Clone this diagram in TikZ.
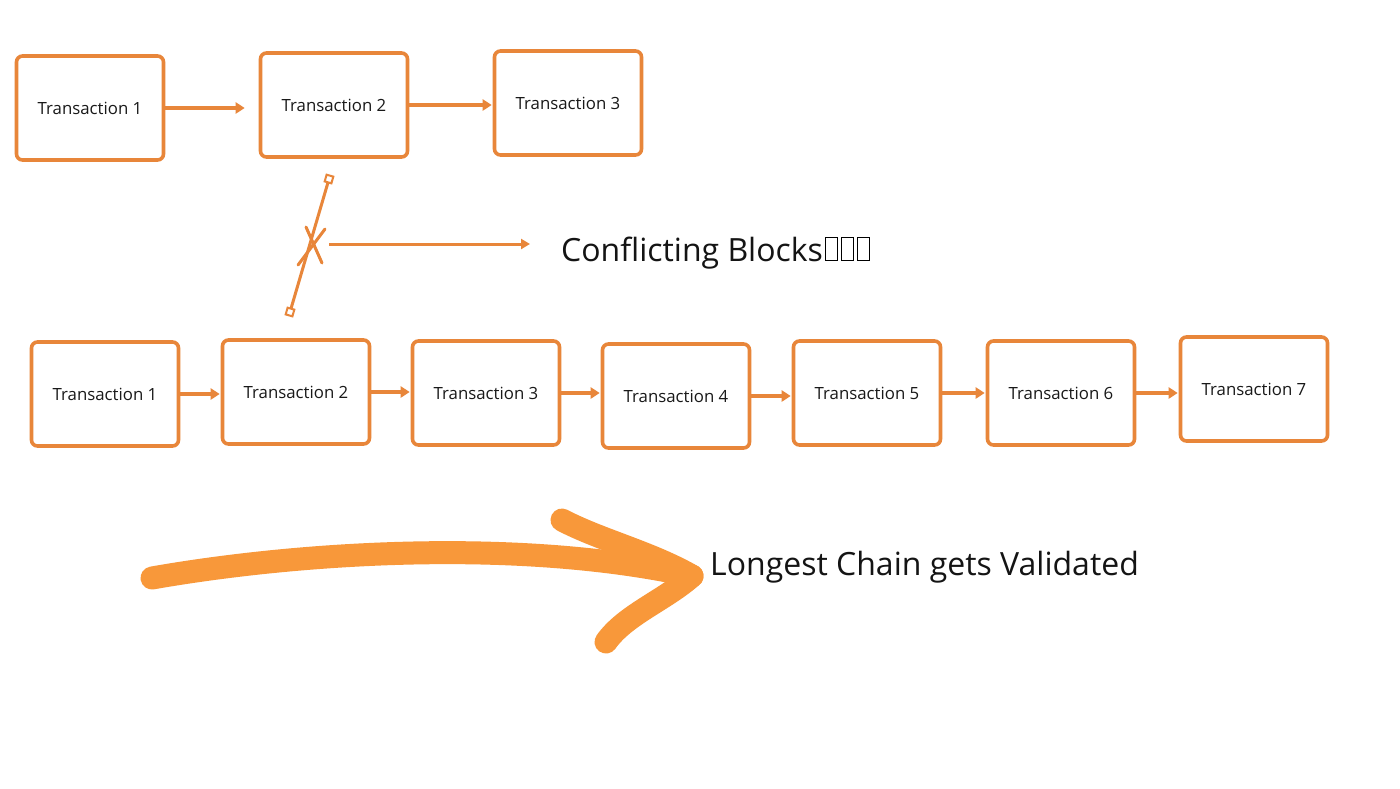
\documentclass[tikz,border=0pt]{standalone}
\usepackage{fontspec}
\setmainfont{Open Sans}
\usetikzlibrary{arrows.meta,calc}
\definecolor{boxorange}{RGB}{232,134,58}
\definecolor{bigorange}{RGB}{248,152,58}
\begin{document}
\begin{tikzpicture}[x=1pt,y=-1pt,
  tbox/.style={draw=boxorange,line width=3.6pt,rounded corners=6pt,fill=white,
    minimum width=147pt,minimum height=104pt,inner sep=0pt,
    font=\fontsize{16.8}{20}\selectfont,text=black!90},
  link/.style={draw=boxorange,line width=3.6pt,-{Triangle[length=9pt,width=11pt]}},
  thin/.style={draw=boxorange,line width=3pt},
  endmark/.style={draw=boxorange,line width=2pt,fill=white,minimum size=7pt,inner sep=0pt,rotate=-16},
  bigtext/.style={font=\fontsize{32}{38}\selectfont,text=black!92,inner sep=0pt},
  tofu/.style={draw=black,line width=0.9pt}
]
\useasboundingbox[fill=white] (0,0) rectangle (1400,788);
% top chain
\node[tbox] (t1) at (90,108) {Transaction 1};
\node[tbox] (t2) at (334,105) {Transaction 2};
\node[tbox] (t3) at (568,103) {Transaction 3};
\draw[link,shorten >=14pt] (t1.east) -- (t1.east -| t2.west);
\draw[link,shorten >=1pt] (t2.east) -- (t2.east -| t3.west);
% bottom chain
\node[tbox] (b1) at (105,394) {Transaction 1};
\node[tbox] (b2) at (296,392) {Transaction 2};
\node[tbox] (b3) at (486,393) {Transaction 3};
\node[tbox] (b4) at (676,396) {Transaction 4};
\node[tbox] (b5) at (867,393) {Transaction 5};
\node[tbox] (b6) at (1061,393) {Transaction 6};
\node[tbox] (b7) at (1254,389) {Transaction 7};
\foreach \a/\b in {b1/b2,b2/b3,b3/b4,b4/b5,b5/b6,b6/b7}
  \draw[link,shorten >=1pt] (\a.east) -- (\a.east -| \b.west);
% broken link
\coordinate (c1) at (329,179);
\coordinate (c2) at (290,312);
\draw[thin] (c1) -- (c2);
\node[endmark] (m1) at (c1) {};
\node[endmark] (m2) at (c2) {};
\coordinate (x1) at (306,227);
\coordinate (x2) at (322,263);
\coordinate (x3) at (325,229);
\coordinate (x4) at (298,265);
\draw[thin,line cap=round] (x1) -- (x2);
\draw[thin,line cap=round] (x3) -- (x4);
\coordinate (a0) at (329,244);
\node[bigtext,anchor=base west] (cb) at (561,261) {Conflicting Blocks};
\draw[draw=boxorange,line width=3pt,-{Triangle[length=9pt,width=10pt]}] (a0) -- (530,244) coordinate (a1);
\foreach \i in {0,1,2}
  \draw[tofu] ($(cb.base east)+(2+16*\i,-1)$) rectangle ++(12,-23);
% big arrow
\coordinate (s0) at (152,578);
\coordinate (tip) at (692,576);
\coordinate (h1) at (562,520);
\coordinate (h2) at (606,642);
\draw[bigorange,line width=23pt,line cap=round,line join=round]
  (s0) .. controls (300,552) and (520,538) .. (tip);
\draw[bigorange,line width=23pt,line cap=round,line join=round]
  (h1) .. controls (600,540) and (650,552) .. (tip) .. controls (665,600) and (625,615) .. (h2);
\node[bigtext,anchor=base west] (lc) at (710,575) {Longest Chain gets Validated};
\end{tikzpicture}
\end{document}
